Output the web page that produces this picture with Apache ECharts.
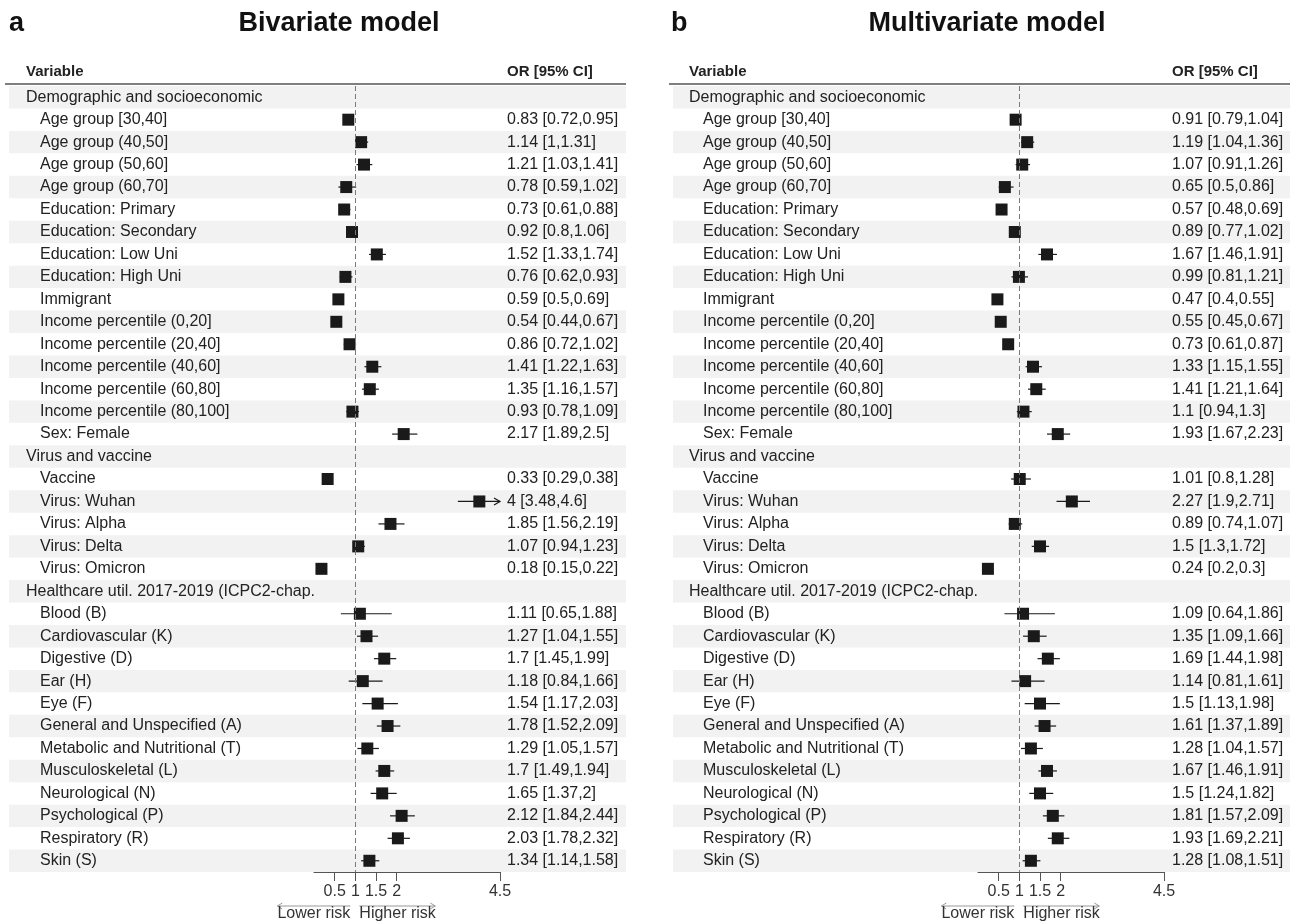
<!DOCTYPE html>
<html>
<head>
<meta charset="utf-8">
<script src="https://cdn.jsdelivr.net/npm/echarts@6/dist/echarts.min.js"></script>
<style>
  html, body { margin: 0; padding: 0; background: #fff; }
  #forest { width: 1291px; height: 923px; }
</style>
</head>
<body>
<div id="forest"></div>
<script>
// rows of the table (null values = group header rows)
var variables = [
  'Demographic and socioeconomic',
  'Age group [30,40]', 'Age group (40,50]', 'Age group (50,60]', 'Age group (60,70]',
  'Education: Primary', 'Education: Secondary', 'Education: Low Uni', 'Education: High Uni',
  'Immigrant',
  'Income percentile (0,20]', 'Income percentile (20,40]', 'Income percentile (40,60]',
  'Income percentile (60,80]', 'Income percentile (80,100]',
  'Sex: Female',
  'Virus and vaccine',
  'Vaccine', 'Virus: Wuhan', 'Virus: Alpha', 'Virus: Delta', 'Virus: Omicron',
  'Healthcare util. 2017-2019 (ICPC2-chap.',
  'Blood (B)', 'Cardiovascular (K)', 'Digestive (D)', 'Ear (H)', 'Eye (F)',
  'General and Unspecified (A)', 'Metabolic and Nutritional (T)', 'Musculoskeletal (L)',
  'Neurological (N)', 'Psychological (P)', 'Respiratory (R)', 'Skin (S)'
];

// bivariate model
var biOR = [null, 0.83, 1.14, 1.21, 0.78, 0.73, 0.92, 1.52, 0.76, 0.59, 0.54, 0.86, 1.41, 1.35, 0.93, 2.17,
  null, 0.33, 4, 1.85, 1.07, 0.18,
  null, 1.11, 1.27, 1.7, 1.18, 1.54, 1.78, 1.29, 1.7, 1.65, 2.12, 2.03, 1.34];
var biLo = [null, 0.72, 1, 1.03, 0.59, 0.61, 0.8, 1.33, 0.62, 0.5, 0.44, 0.72, 1.22, 1.16, 0.78, 1.89,
  null, 0.29, 3.48, 1.56, 0.94, 0.15,
  null, 0.65, 1.04, 1.45, 0.84, 1.17, 1.52, 1.05, 1.49, 1.37, 1.84, 1.78, 1.14];
var biHi = [null, 0.95, 1.31, 1.41, 1.02, 0.88, 1.06, 1.74, 0.93, 0.69, 0.67, 1.02, 1.63, 1.57, 1.09, 2.5,
  null, 0.38, 4.6, 2.19, 1.23, 0.22,
  null, 1.88, 1.55, 1.99, 1.66, 2.03, 2.09, 1.57, 1.94, 2, 2.44, 2.32, 1.58];

// multivariate model
var mvOR = [null, 0.91, 1.19, 1.07, 0.65, 0.57, 0.89, 1.67, 0.99, 0.47, 0.55, 0.73, 1.33, 1.41, 1.1, 1.93,
  null, 1.01, 2.27, 0.89, 1.5, 0.24,
  null, 1.09, 1.35, 1.69, 1.14, 1.5, 1.61, 1.28, 1.67, 1.5, 1.81, 1.93, 1.28];
var mvLo = [null, 0.79, 1.04, 0.91, 0.5, 0.48, 0.77, 1.46, 0.81, 0.4, 0.45, 0.61, 1.15, 1.21, 0.94, 1.67,
  null, 0.8, 1.9, 0.74, 1.3, 0.2,
  null, 0.64, 1.09, 1.44, 0.81, 1.13, 1.37, 1.04, 1.46, 1.24, 1.57, 1.69, 1.08];
var mvHi = [null, 1.04, 1.36, 1.26, 0.86, 0.69, 1.02, 1.91, 1.21, 0.55, 0.67, 0.87, 1.55, 1.64, 1.3, 2.23,
  null, 1.28, 2.71, 1.07, 1.72, 0.3,
  null, 1.86, 1.66, 1.98, 1.61, 1.98, 1.89, 1.57, 1.91, 1.82, 2.09, 2.21, 1.51];

var xTicks = [0.5, 1, 1.5, 2, 4.5];
var X_MAX = 4.5;

var FONT = '"Liberation Sans", Arial, sans-serif';
var INK = '#222';

var chart = echarts.init(document.getElementById('forest'));

var panels = [
  { key: 'a', title: 'Bivariate model', or: biOR, lo: biLo, hi: biHi,
    gridLeft: 314, rowLeft: 9, rowRight: 626, textLeft: 26, orLeft: 507, titleX: 339, letterX: 9 },
  { key: 'b', title: 'Multivariate model', or: mvOR, lo: mvLo, hi: mvHi,
    gridLeft: 978, rowLeft: 673, rowRight: 1290, textLeft: 689, orLeft: 1172, titleX: 987, letterX: 671 }
];

function orText(p, i) {
  if (p.or[i] == null) return '';
  return p.or[i] + ' [' + p.lo[i] + ',' + p.hi[i] + ']';
}

var grids = [], xAxes = [], yAxes = [], series = [];

panels.forEach(function (p, k) {
  grids.push({ left: p.gridLeft, width: 186, top: 86, height: 786 });

  xAxes.push({
    type: 'value', gridIndex: k, min: 0, max: X_MAX, z: 6,
    splitLine: { show: false },
    axisLine: { show: true, lineStyle: { color: '#555', width: 1 } },
    axisTick: { show: true, length: 9, customValues: xTicks, lineStyle: { color: '#555' } },
    axisLabel: { customValues: xTicks, fontSize: 16, color: '#333', fontFamily: FONT, margin: 12 }
  });

  // variable names on the left
  yAxes.push({
    type: 'category', gridIndex: k, inverse: true, data: variables, position: 'left', z: 6,
    axisLine: { show: false }, axisTick: { show: false },
    axisLabel: {
      interval: 0, align: 'left', margin: p.gridLeft - p.textLeft,
      fontSize: 16, color: INK, fontFamily: FONT,
      formatter: function (v, i) {
        return p.or[i] == null ? '{h|' + v + '}' : '{it|' + v + '}';
      },
      rich: {
        h: { fontSize: 16, color: INK, fontFamily: FONT },
        it: { fontSize: 16, color: INK, fontFamily: FONT, padding: [0, 0, 0, 14] }
      }
    }
  });

  // OR [95% CI] column on the right
  yAxes.push({
    type: 'category', gridIndex: k, inverse: true, data: variables, position: 'right', z: 6,
    axisLine: { show: false }, axisTick: { show: false },
    axisLabel: {
      interval: 0, align: 'left', margin: p.orLeft - (p.gridLeft + 186),
      fontSize: 16, color: INK, fontFamily: FONT,
      formatter: function (v, i) { return orText(p, i); }
    }
  });

  // zebra shading of rows
  var bands = [];
  variables.forEach(function (v, i) { if (i % 2 === 0) bands.push([0, i]); });
  series.push({
    type: 'custom', xAxisIndex: k, yAxisIndex: k * 2, z: 1, silent: true,
    data: bands,
    renderItem: function (params, api) {
      var c = api.coord([0, api.value(1)]);
      var h = api.size([0, 1])[1];
      return {
        type: 'rect',
        shape: { x: p.rowLeft, y: c[1] - h / 2, width: p.rowRight - p.rowLeft, height: h },
        style: { fill: '#f2f2f2' }
      };
    }
  });

  // estimates with CI
  var pts = [];
  variables.forEach(function (v, i) {
    if (p.or[i] != null) pts.push([i, p.or[i], p.lo[i], p.hi[i]]);
  });
  series.push({
    type: 'custom', xAxisIndex: k, yAxisIndex: k * 2, z: 3, silent: true,
    data: pts,
    encode: { x: [1, 2, 3], y: 0 },
    renderItem: function (params, api) {
      var row = api.value(0);
      var c = api.coord([api.value(1), row]);
      var l = api.coord([api.value(2), row]);
      var hiVal = api.value(3);
      var r = api.coord([Math.min(hiVal, X_MAX), row]);
      var kids = [
        { type: 'line', shape: { x1: l[0], y1: c[1], x2: r[0], y2: c[1] },
          style: { stroke: '#1a1a1a', lineWidth: 1.2 } }
      ];
      if (hiVal > X_MAX) {
        kids.push({ type: 'polyline',
          shape: { points: [[r[0] - 6, c[1] - 3.5], [r[0], c[1]], [r[0] - 6, c[1] + 3.5]] },
          style: { stroke: '#1a1a1a', lineWidth: 1.2, fill: null } });
      }
      kids.push({ type: 'rect', shape: { x: c[0] - 6, y: c[1] - 6, width: 12, height: 12 },
        style: { fill: '#1a1a1a' } });
      return { type: 'group', children: kids };
    },
    markLine: {
      silent: true, symbol: 'none', label: { show: false },
      lineStyle: { color: '#7a7a7a', type: [5, 3], width: 1 },
      data: [{ xAxis: 1 }]
    }
  });
});

chart.setOption({
  animation: false,
  grid: grids,
  xAxis: xAxes,
  yAxis: yAxes,
  series: series
});

// headers, titles and risk arrows
var graphics = [];
panels.forEach(function (p, k) {
  var one = chart.convertToPixel({ xAxisIndex: k }, 1);
  graphics.push(
    { type: 'text', style: { text: p.key, x: p.letterX, y: 24, font: 'bold 27px ' + FONT, fill: '#111', verticalAlign: 'middle' } },
    { type: 'text', style: { text: p.title, x: p.titleX, y: 24, font: 'bold 27px ' + FONT, fill: '#111', align: 'center', verticalAlign: 'middle' } },
    { type: 'text', style: { text: 'Variable', x: p.textLeft, y: 72, font: 'bold 15px ' + FONT, fill: INK, verticalAlign: 'middle' } },
    { type: 'text', style: { text: 'OR [95% CI]', x: p.orLeft, y: 72, font: 'bold 15px ' + FONT, fill: INK, verticalAlign: 'middle' } },
    { type: 'line', shape: { x1: p.rowLeft - 4, y1: 84, x2: p.rowRight, y2: 84 }, style: { stroke: '#555', lineWidth: 1.5 } },
    // lower risk
    { type: 'line', shape: { x1: one - 5, y1: 906, x2: one - 78, y2: 906 }, style: { stroke: '#999', lineWidth: 1 } },
    { type: 'polyline', shape: { points: [[one - 73, 903], [one - 78, 906], [one - 73, 909]] }, style: { stroke: '#999', lineWidth: 1, fill: null } },
    { type: 'text', style: { text: 'Lower risk', x: one - 5, y: 914, font: '16px ' + FONT, fill: '#333', align: 'right', verticalAlign: 'middle' } },
    // higher risk
    { type: 'line', shape: { x1: one + 4, y1: 906, x2: one + 80, y2: 906 }, style: { stroke: '#999', lineWidth: 1 } },
    { type: 'polyline', shape: { points: [[one + 75, 903], [one + 80, 906], [one + 75, 909]] }, style: { stroke: '#999', lineWidth: 1, fill: null } },
    { type: 'text', style: { text: 'Higher risk', x: one + 4, y: 914, font: '16px ' + FONT, fill: '#333', verticalAlign: 'middle' } }
  );
});
chart.setOption({ graphic: graphics });
</script>
</body>
</html>
